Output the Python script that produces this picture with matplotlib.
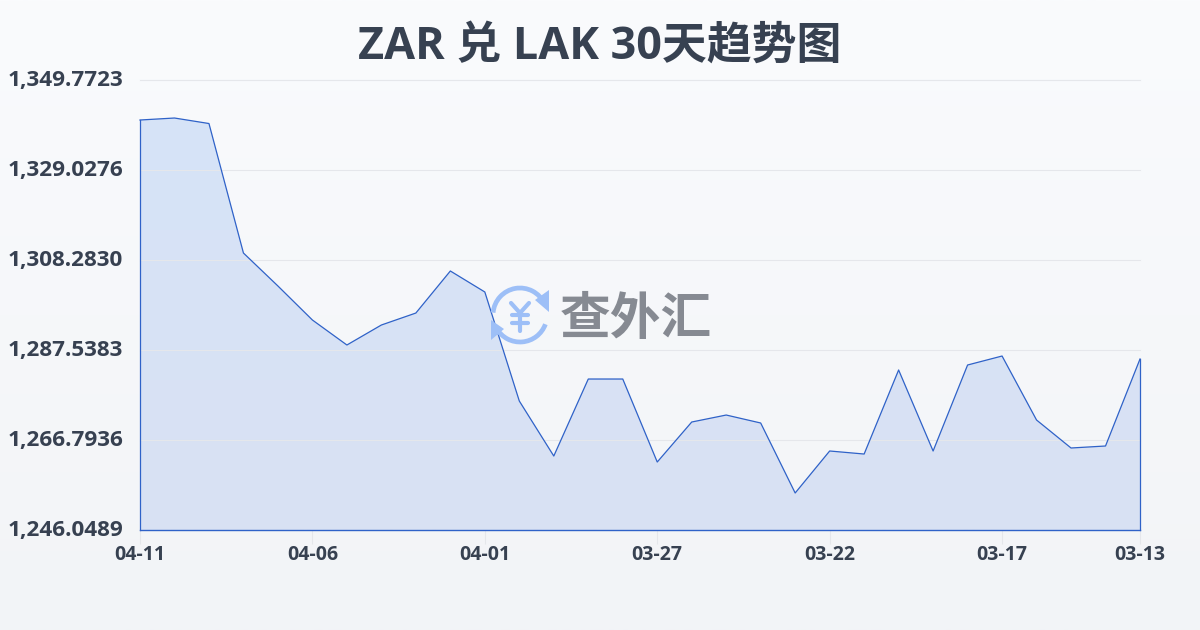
import matplotlib
matplotlib.use("Agg")
import matplotlib.pyplot as plt
from matplotlib.patches import Arc, Polygon
from matplotlib.transforms import ScaledTranslation
import numpy as np

# bold faces available for the latin text
plt.rcParams['font.family'] = ['Open Sans', 'Noto Sans CJK SC', 'DejaVu Sans']

rates = [1340.55, 1341.01, 1339.74, 1309.89, 1302.29, 1294.45, 1288.69, 1293.30,
         1296.06, 1305.75, 1300.91, 1275.78, 1263.10, 1280.85, 1280.85, 1261.72,
         1270.94, 1272.55, 1270.71, 1254.58, 1264.26, 1263.56, 1282.93, 1264.26,
         1284.08, 1286.15, 1271.40, 1264.95, 1265.41, 1285.46]
date_ticks = [0, 5, 10, 15, 20, 25, 29]
date_labels = ['04-11', '04-06', '04-01', '03-27', '03-22', '03-17', '03-13']
y_ticks = [1246.0489, 1266.7936, 1287.5383, 1308.2830, 1329.0276, 1349.7723]

TEXT = '#374151'
LINE = '#2f62c8'
W, H = 1200, 630

fig = plt.figure(figsize=(W / 100, H / 100), dpi=100)

# page background gradient
bg = fig.add_axes([0, 0, 1, 1], zorder=0)
bg.imshow(np.linspace(0, 1, 256).reshape(-1, 1), aspect='auto', extent=(0, 1, 0, 1),
          cmap=matplotlib.colors.LinearSegmentedColormap.from_list('bg', ['#fafbfd', '#f2f4f7']))
bg.axis('off')

ax = fig.add_axes([140 / W, 1 - 530 / H, 1000 / W, 450 / H], zorder=1)
ax.patch.set_alpha(0)
xs = np.arange(len(rates))

# area fill with a vertical gradient, clipped to the series outline
outline = list(zip(xs, rates)) + [(xs[-1], y_ticks[0]), (xs[0], y_ticks[0])]
clip = Polygon(outline, closed=True, transform=ax.transData, fc='none', ec='none')
ax.add_patch(clip)
grad = ax.imshow(np.linspace(0, 1, 256).reshape(-1, 1), aspect='auto', zorder=1.5,
                 extent=(0, len(rates) - 1, y_ticks[0], y_ticks[-1]),
                 cmap=matplotlib.colors.LinearSegmentedColormap.from_list('fill', ['#d6e4f8', '#d9e1f3']))
grad.set_clip_path(clip)
ax.set_xlim(0, len(rates) - 1)
ax.set_ylim(y_ticks[0], y_ticks[-1])

# grid stays faintly visible through the area
for v in y_ticks[1:]:
    ax.axhline(v, color='#e5e7eb', lw=0.8, zorder=2, clip_on=False)

ax.plot(xs, rates, color=LINE, lw=0.9, zorder=3, clip_on=False)
ax.plot([0, 0], [y_ticks[0], rates[0]], color=LINE, lw=0.9, zorder=3, clip_on=False)
ax.plot([xs[-1], xs[-1]], [y_ticks[0], rates[-1]], color=LINE, lw=0.9, zorder=3, clip_on=False)

for s in ['top', 'left', 'right']:
    ax.spines[s].set_visible(False)
ax.spines['bottom'].set_color(LINE)
ax.spines['bottom'].set_linewidth(1)
ax.spines['bottom'].set_zorder(3)

ax.set_xticks(date_ticks)
ax.set_xticklabels(date_labels, fontsize=14, fontweight='bold', color=TEXT)
ax.tick_params(axis='x', length=10, width=0.8, color='#e5e7eb', pad=1)
ax.set_yticks(y_ticks)
ax.set_yticklabels([f'{v:,.4f}' for v in y_ticks], fontsize=16.2, fontweight='bold', color=TEXT)
ax.tick_params(axis='y', length=0, pad=12)
# labels sit 2px above their gridline
up = ScaledTranslation(0, 2 / 100, fig.dpi_scale_trans)
for lab in ax.get_yticklabels():
    lab.set_transform(lab.get_transform() + up)

fig.text(600 / W, 1 - 47 / H, 'ZAR 兑 LAK 30天趋势图', ha='center', va='center',
         fontsize=32.3, fontweight='bold', color=TEXT)

# watermark logo, in a pixel-coordinate overlay
top = fig.add_axes([0, 0, 1, 1], zorder=5)
top.set_xlim(0, W)
top.set_ylim(H, 0)
top.axis('off')
LOGO = '#9dbff7'
cx, cy = 520, 315
top.add_patch(Arc((cx, cy), 54, 54, theta1=185, theta2=335, color=LOGO, lw=3.4))
top.add_patch(Arc((cx, cy), 54, 54, theta1=20, theta2=150, color=LOGO, lw=3.4))
top.add_patch(Polygon([(549, 290), (549, 312), (535, 300)], closed=True, fc=LOGO, ec='none'))
top.add_patch(Polygon([(491, 340), (491, 320), (504, 329)], closed=True, fc=LOGO, ec='none'))
# yen mark built from strokes, it is thicker than the font glyph
for seg in [((511, 303), (520, 313)), ((529, 303), (520, 313)), ((520, 313), (520, 331)),
            ((512, 315), (528, 315)), ((512, 323), (528, 323))]:
    top.plot(*zip(*seg), color=LOGO, lw=3, solid_capstyle='round')
top.text(636, 321, '查外汇', ha='center', va='center', fontsize=36.5, fontweight='bold', color='#868a92')

fig.savefig('out.png', dpi=100)
